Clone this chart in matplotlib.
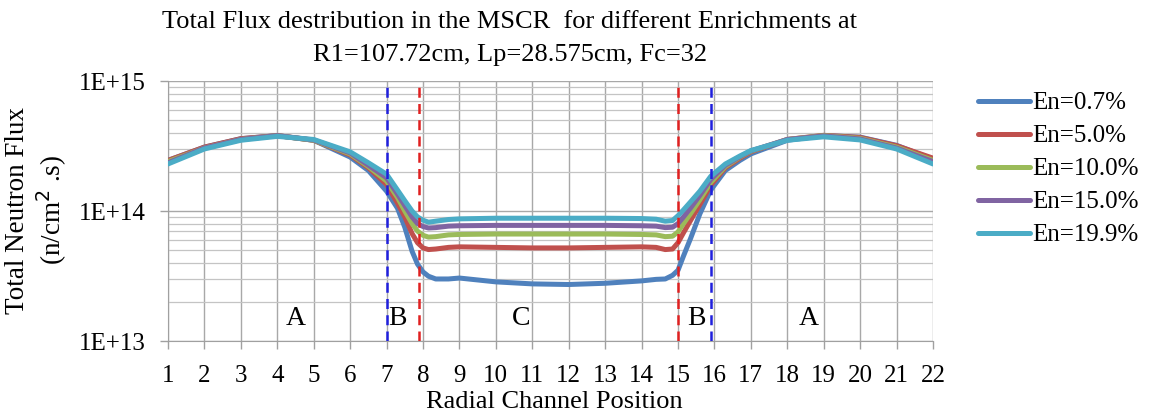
import matplotlib
matplotlib.use("Agg")
import matplotlib.pyplot as plt
import numpy as np
from matplotlib.ticker import FixedLocator, FuncFormatter, LogLocator, NullFormatter

plt.rcParams['font.family'] = ['Liberation Serif', 'DejaVu Serif']

# ---- data (flux in units of 1e14 n/cm^2.s) ----
positions = [1, 2, 3, 4, 5, 6, 6.5, 7, 7.3, 7.5, 7.7, 7.85, 8.0, 8.15, 8.35, 8.7, 9,
             10, 11, 12, 13, 14, 14.4, 14.65, 14.85, 15.0, 15.15, 15.35, 15.6, 15.9,
             16.3, 16.7, 17, 18, 19, 20, 21, 22]
en_0_7 = [2.45, 3.1, 3.6, 3.8, 3.5, 2.6, 2.05, 1.42, 1.05, 0.75, 0.49, 0.39, 0.34, 0.315,
          0.30, 0.30, 0.305, 0.285, 0.275, 0.272, 0.278, 0.29, 0.298, 0.30, 0.32, 0.35,
          0.45, 0.62, 0.95, 1.45, 2.05, 2.45, 2.75, 3.5, 3.8, 3.7, 3.2, 2.5]
en_5_0 = [2.45, 3.1, 3.6, 3.8, 3.5, 2.7, 2.15, 1.6, 1.15, 0.9, 0.67, 0.57, 0.52, 0.505,
          0.51, 0.525, 0.53, 0.525, 0.52, 0.52, 0.525, 0.53, 0.525, 0.505, 0.51, 0.57,
          0.68, 0.85, 1.12, 1.58, 2.15, 2.55, 2.85, 3.55, 3.82, 3.68, 3.18, 2.55]
en_10_0 = [2.4, 3.05, 3.55, 3.8, 3.5, 2.75, 2.2, 1.7, 1.27, 1.0, 0.8, 0.7, 0.65, 0.63,
           0.635, 0.655, 0.66, 0.665, 0.665, 0.665, 0.665, 0.66, 0.655, 0.635, 0.64, 0.69,
           0.8, 0.96, 1.22, 1.66, 2.2, 2.6, 2.88, 3.55, 3.8, 3.62, 3.1, 2.45]
en_15_0 = [2.35, 3.05, 3.55, 3.8, 3.52, 2.8, 2.25, 1.8, 1.35, 1.1, 0.9, 0.8, 0.76, 0.74,
           0.745, 0.765, 0.77, 0.775, 0.775, 0.775, 0.775, 0.77, 0.765, 0.745, 0.75, 0.80,
           0.9, 1.06, 1.32, 1.75, 2.25, 2.62, 2.9, 3.55, 3.78, 3.58, 3.05, 2.4]
en_19_9 = [2.3, 3.0, 3.5, 3.75, 3.55, 2.85, 2.35, 1.92, 1.45, 1.2, 1.0, 0.9, 0.85, 0.82,
           0.835, 0.86, 0.87, 0.88, 0.88, 0.88, 0.88, 0.875, 0.865, 0.835, 0.845, 0.92,
           1.02, 1.18, 1.42, 1.85, 2.3, 2.65, 2.92, 3.5, 3.72, 3.52, 3.0, 2.3]
series_labels = ['En=0.7%', 'En=5.0%', 'En=10.0%', 'En=15.0%', 'En=19.9%']
series_colors = ['#4F81BD', '#C0504D', '#9BBB59', '#8064A2', '#4BACC6']
boundary_x = [7, 7.9, 15, 15.9]
boundary_colors = ['#1f1fdd', '#e02020', '#e02020', '#1f1fdd']
region_labels = ['A', 'B', 'C', 'B', 'A']
region_x = [4.5, 7.3, 10.7, 15.5, 18.6]
x_ticks = list(range(1, 23))

FS = 18

fig = plt.figure(figsize=(11.57, 4.16), dpi=100)
ax = fig.add_axes([168/1157, 1-341/416, (933-168)/1157, (341-81)/416])

all_series = [en_0_7, en_5_0, en_10_0, en_15_0, en_19_9]
for vals, lab, col in zip(all_series, series_labels, series_colors):
    ax.plot(positions, np.array(vals) * 1e14, color=col, lw=3.6, label=lab,
            solid_capstyle='round', solid_joinstyle='round', zorder=3)

for bx, bc in zip(boundary_x, boundary_colors):
    ax.axvline(bx, color=bc, lw=1.8, ls=(0, (4, 2.5)), zorder=4)

for rx, rl in zip(region_x, region_labels):
    ax.text(rx, 1.5e13, rl, ha='center', va='center', fontsize=20, zorder=5)

ax.set_yscale('log')
ax.set_ylim(1e13, 1e15)
ax.set_xlim(1, 22)
ax.xaxis.set_major_locator(FixedLocator(x_ticks))
ax.set_xticklabels([str(t) for t in x_ticks])
ax.yaxis.set_major_locator(FixedLocator([1e13, 1e14, 1e15]))
ax.yaxis.set_major_formatter(FuncFormatter(lambda v, p: '1E+%d' % round(np.log10(v))))
ax.yaxis.set_minor_locator(LogLocator(base=10, subs=np.arange(2, 10)))
ax.yaxis.set_minor_formatter(NullFormatter())
ax.tick_params(axis='both', which='major', direction='out', length=6, width=1,
               color='#a0a0a0', labelsize=FS)
ax.tick_params(axis='x', which='major', pad=11)
ax.tick_params(axis='y', which='major', pad=10)
ax.tick_params(axis='y', which='minor', length=0)

ax.grid(True, which='major', axis='both', color='#a8a8a8', lw=1.0, zorder=0)
ax.grid(True, which='minor', axis='y', color='#c4c4c4', lw=0.9, zorder=0)
for s in ['top', 'right']:
    ax.spines[s].set_visible(False)
for s in ['left', 'bottom']:
    ax.spines[s].set_color('#a0a0a0')

fig.text(554/1157, 1-402/416, 'Radial Channel Position', ha='center', va='center',
         fontsize=19)
fig.text(37/1157, 1-210/416, 'Total Neutron Flux\n(n/cm$^2$ .s)', ha='center',
         va='center', rotation=90, fontsize=19.5, linespacing=1.15)

fig.text(510/1157, 1-22/416, 'Total Flux destribution in the MSCR  for different Enrichments at',
         ha='center', va='center', fontsize=19)
fig.text(510/1157, 1-55/416, 'R1=107.72cm, Lp=28.575cm, Fc=32',
         ha='center', va='center', fontsize=19)

leg = fig.legend(loc='center left', bbox_to_anchor=(955/1157, 1-169/416), frameon=False,
                 fontsize=FS, handlelength=2.1, handletextpad=0.1, labelspacing=0.42)

fig.savefig('out.png', dpi=100)
